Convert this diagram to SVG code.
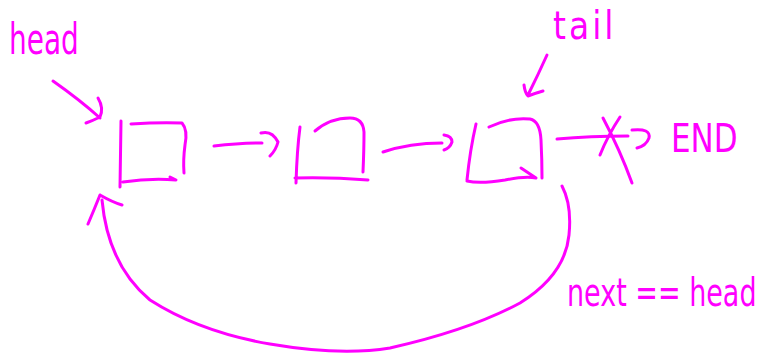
<svg xmlns="http://www.w3.org/2000/svg" width="765" height="355" viewBox="0 0 765 355">
<style>
.s{fill:none;stroke:#ff00ff;stroke-width:3;stroke-linecap:round;stroke-linejoin:round}
.t{fill:#ff00ff;font-family:"DejaVu Sans","Liberation Sans",sans-serif;font-weight:normal}
</style>
<rect width="765" height="355" fill="#ffffff"/>
<g id="node1">
<path class="s" d="M121,121 L120,187 M123,182 Q150,178 176,180 L170,177 M131,124 Q160,122 182,123 Q188,130 185,145 Q183,160 184,173"/>
</g>
<g id="node2">
<path class="s" d="M300,127 Q297,150 296,183 M295,178 Q330,177 368,180 M315,131 Q330,118 350,118 Q363,118 364,132 Q364,150 363,172"/>
</g>
<g id="node3">
<path class="s" d="M476,124 Q470,150 467,180 M467,181 Q480,184 505,180 Q525,176 536,178 L521,168 M489,127 Q510,117 530,119 Q540,121 541,140 Q542,160 542,178"/>
</g>
<g id="label-head">
<text class="t" transform="translate(9,54) scale(1,1.5)" font-size="28">head</text>
</g>
<g id="label-tail">
<text class="t" transform="translate(553,39) scale(1,1.2)" font-size="33" letter-spacing="3">tail</text>
</g>
<g id="label-end">
<text class="t" transform="translate(671,152) scale(1,1.25)" font-size="31">END</text>
</g>
<g id="label-next">
<text class="t" transform="translate(567,306) scale(1,1.45)" font-size="27">next == head</text>
</g>
<g id="connectors">
<path class="s" d="M53,81 Q80,100 100,118 M98,98 Q104,108 100,117 Q92,121 86,123"/>
<path class="s" d="M214,146 Q240,143 262,143 M261,133 Q272,130 278,142 Q276,150 270,156"/>
<path class="s" d="M383,152 Q410,143 442,143 M444,135 Q452,136 452,142 Q450,148 444,150"/>
<path class="s" d="M547,55 Q538,75 528,95 M524,85 Q525,93 528,96 Q536,93 543,91"/>
<path class="s" d="M557,139 Q590,136 628,136 M632,130 Q651,128 649,138 Q646,146 637,148"/>
<path class="s" d="M603,118 Q620,150 632,183 M620,117 Q608,135 600,155"/>
<path class="s" d="M562,186 Q572,205 569,235 Q565,275 520,303 Q470,330 390,348 Q340,356 270,344 Q200,332 150,300 Q108,265 102,200 M100,195 Q94,210 88,224 M100,195 Q112,202 122,205"/>
</g>
</svg>
